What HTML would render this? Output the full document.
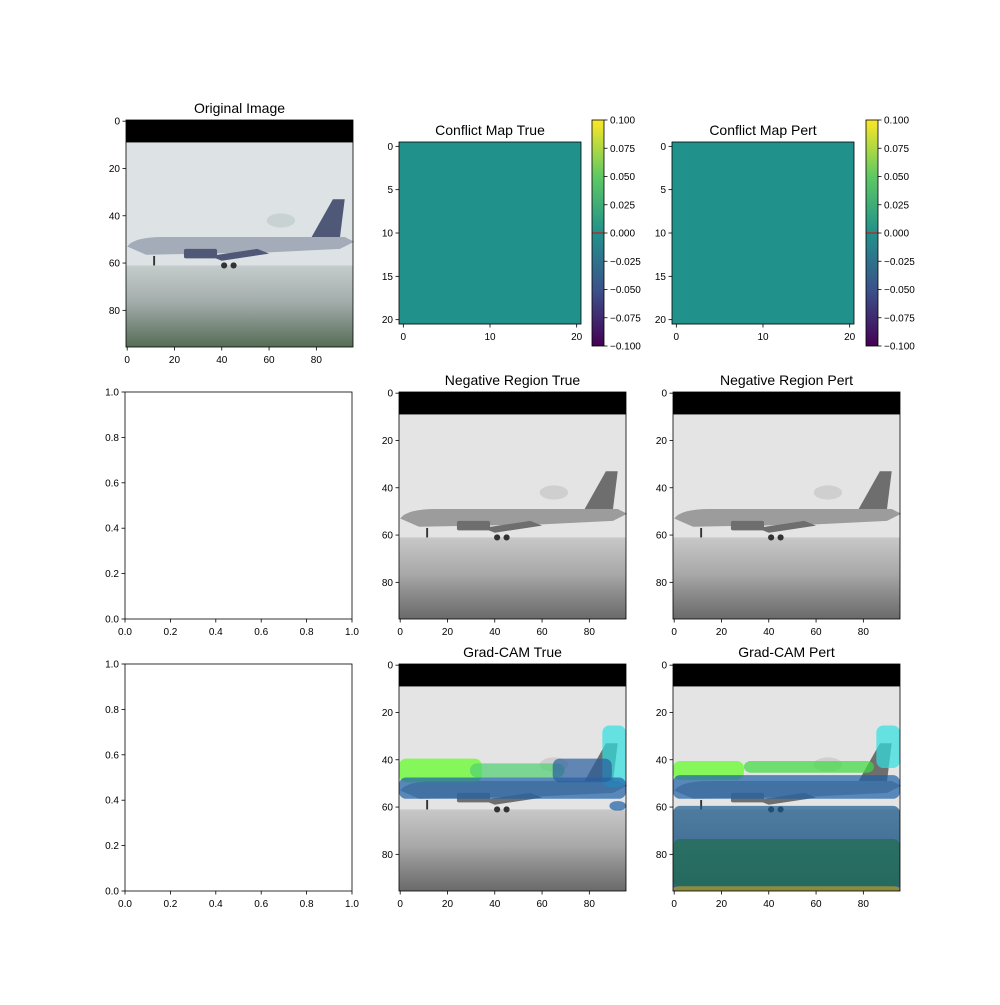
<!DOCTYPE html>
<html><head><meta charset="utf-8"><style>
body{margin:0;background:#fff}
svg text{font-family:"Liberation Sans",sans-serif;fill:#000}
</style></head><body>
<svg id="fig" width="1000" height="1000" viewBox="0 0 1000 1000" xmlns="http://www.w3.org/2000/svg">
<defs>
<linearGradient id="viridis" x1="0" y1="1" x2="0" y2="0">
<stop offset="0" stop-color="#440154"/><stop offset="0.25" stop-color="#3b528b"/><stop offset="0.5" stop-color="#21918c"/><stop offset="0.75" stop-color="#5ec962"/><stop offset="1" stop-color="#fde725"/>
</linearGradient>
<linearGradient id="groundC" x1="0" y1="0" x2="0" y2="1">
<stop offset="0" stop-color="#c4cccc"/><stop offset="0.45" stop-color="#a3adab"/><stop offset="0.7" stop-color="#7f8f84"/><stop offset="1" stop-color="#566d55"/>
</linearGradient>
<linearGradient id="groundG" x1="0" y1="0" x2="0" y2="1">
<stop offset="0" stop-color="#c8c8c8"/><stop offset="0.45" stop-color="#a8a8a8"/><stop offset="0.7" stop-color="#8a8a8a"/><stop offset="1" stop-color="#6a6a6a"/>
</linearGradient>
</defs>
</svg>
<script>
const NS="http://www.w3.org/2000/svg";
const svg=document.getElementById('fig');
const imgTicks=[0,20,40,60,80];
const unitTicks=["0.0","0.2","0.4","0.6","0.8","1.0"];
const cmXTicks=[0,10,20];
const cmYTicks=[0,5,10,15,20];
const cbTicks=[-0.1,-0.075,-0.05,-0.025,0,0.025,0.05,0.075,0.1];
const cbLabels=["−0.100","−0.075","−0.050","−0.025","0.000","0.025","0.050","0.075","0.100"];
const conflictValue=0;
function el(tag,attrs,parent){const e=document.createElementNS(NS,tag);for(const k in attrs)e.setAttribute(k,attrs[k]);(parent||svg).appendChild(e);return e;}
function txt(x,y,s,anchor,size,parent){const t=el('text',{x:x,y:y,'text-anchor':anchor||'middle','font-size':size||10},parent);t.textContent=s;return t;}
function frame(x,y,w,h,name){const g=el('g',{});return g;}
function border(g,x,y,w,h){el('rect',{x:x,y:y,width:w,height:h,fill:'none',stroke:'#000','stroke-width':0.8},g);}
function xTicks(g,vals,fx,y,labels){vals.forEach((v,i)=>{const X=fx(v);el('line',{x1:X,x2:X,y1:y,y2:y+3.5,stroke:'#000','stroke-width':0.8},g);txt(X,y+16,labels?labels[i]:String(v),'middle',10,g);});}
function yTicks(g,vals,fy,x,labels){vals.forEach((v,i)=>{const Y=fy(v);el('line',{x1:x,x2:x-3.5,y1:Y,y2:Y,stroke:'#000','stroke-width':0.8},g);txt(x-6,Y+3.5,labels?labels[i]:String(v),'end',10,g);});}
function plane(g,x0,y0,s,mode){
  const X=v=>x0+(v+0.5)*s, Y=v=>y0+(v+0.5)*s;
  const gray=mode!=='color';
  el('rect',{x:x0,y:y0,width:96*s,height:9.5*s,fill:'#000'},g);
  el('rect',{x:x0,y:Y(9),width:96*s,height:53*s,fill:gray?'#e4e4e4':'#dde3e4'},g);
  el('rect',{x:x0,y:Y(61),width:96*s,height:35*s-0.5*s,fill:gray?'url(#groundG)':'url(#groundC)'},g);
  el('ellipse',{cx:X(65),cy:Y(42),rx:6*s,ry:3*s,fill:gray?'#cfcfcf':'#c9d2d3'},g);
  const body=gray?'#9c9c9c':'#a4abb9', dark=gray?'#6e6e6e':'#4f5876';
  el('path',{d:`M${X(0)} ${Y(53)} Q${X(3)} ${Y(49)} ${X(15)} ${Y(49)} L${X(92)} ${Y(49)} L${X(96)} ${Y(51)} L${X(90)} ${Y(54)} L${X(60)} ${Y(55.5)} L${X(8)} ${Y(56.5)} Z`,fill:body},g);
  el('path',{d:`M${X(78)} ${Y(49)} L${X(87)} ${Y(33)} L${X(92)} ${Y(33)} L${X(90)} ${Y(49)} Z`,fill:dark},g);
  el('path',{d:`M${X(35)} ${Y(57)} L${X(55)} ${Y(54)} L${X(60)} ${Y(56)} L${X(40)} ${Y(59)} Z`,fill:dark},g);
  el('rect',{x:X(24),y:Y(54),width:14*s,height:4*s,fill:dark,rx:2},g);
  el('circle',{cx:X(41),cy:Y(61),r:1.3*s,fill:'#333'},g);
  el('circle',{cx:X(45),cy:Y(61),r:1.3*s,fill:'#333'},g);
  el('rect',{x:X(11),y:Y(57),width:0.8*s,height:4*s,fill:'#333'},g);
}
function cam(g,x0,y0,s,pert){
  const X=v=>x0+(v+0.5)*s, Y=v=>y0+(v+0.5)*s;
  const blobs=pert?[
   [0,41,30,8,'#5cff20'],[30,41,55,5,'#3cdc40'],[86,26,10,18,'#30e0e0'],
   [0,47,96,10,'#1d5fa8'],[0,60,96,36,'#1a5a8e'],[0,74,96,20,'#1f6d4e'],[0,94,96,2,'#b0a020']
  ]:[
   [0,40,35,10,'#5cff20'],[30,42,40,6,'#50d070'],[86,26,10,26,'#30e0e0'],
   [0,48,96,9,'#1d5fa8'],[65,40,25,10,'#2a5ea0'],[89,58,7,4,'#1d5fa8']
  ];
  blobs.forEach(b=>el('rect',{x:X(b[0]-0.5),y:Y(b[1]-0.5),width:b[2]*s,height:b[3]*s,fill:b[4],opacity:0.7,rx:3*s},g));
}
function imagePanel(x0,y0,name,title,mode,camMode){
  const W=227,s=W/96;const g=frame(x0,y0,W,W,name);
  plane(g,x0,y0,s,mode);
  if(camMode)cam(g,x0,y0,s,camMode==='pert');
  border(g,x0,y0,W,W);
  const fx=v=>x0+(v+0.5)*s, fy=v=>y0+(v+0.5)*s;
  xTicks(g,imgTicks,fx,y0+W);yTicks(g,imgTicks,fy,x0);
  const t=txt(x0+W/2,y0-7,title,'middle',14,g);
}
function emptyPanel(x0,y0,name){
  const W=227;const g=frame(x0,y0,W,W,name);
  el('rect',{x:x0,y:y0,width:W,height:W,fill:'#fff'},g);border(g,x0,y0,W,W);
  const vals=[0,0.2,0.4,0.6,0.8,1.0];
  xTicks(g,vals,v=>x0+v*W,y0+W,unitTicks);yTicks(g,vals,v=>y0+W-v*W,x0,unitTicks);
}
function conflictPanel(x0,y0,cbx,name,title){
  const W=182,s=W/21;const g=frame(x0,y0,W,W,name);
  for(let r=0;r<21;r++){const c=el('rect',{x:x0,y:y0+r*s,width:W,height:s+0.3,fill:'#21918c'},g);}
  border(g,x0,y0,W,W);
  xTicks(g,cmXTicks,v=>x0+(v+0.5)*s,y0+W);yTicks(g,cmYTicks,v=>y0+(v+0.5)*s,x0);
  const t=txt(x0+W/2,y0-7,title,'middle',14,g);
  const cb=frame(cbx,120,12,226,'colorbar');
  const cy0=120,ch=226,fy=v=>cy0+ch*(0.1-v)/0.2;
  el('rect',{x:cbx,y:cy0,width:12,height:ch,fill:'url(#viridis)'},cb);
  el('line',{x1:cbx,x2:cbx+12,y1:fy(conflictValue),y2:fy(conflictValue),stroke:'#e00','stroke-width':1},cb);
  border(cb,cbx,cy0,12,ch);
  cbTicks.forEach((v,i)=>{const Y=fy(v);el('line',{x1:cbx+12,x2:cbx+15.5,y1:Y,y2:Y,stroke:'#000','stroke-width':0.8},cb);txt(cbx+18,Y+3.5,cbLabels[i],'start',10,cb);});
}
imagePanel(126,120,'original-image-panel','Original Image','color');
conflictPanel(399,142,592,'conflict-map-true-panel','Conflict Map True');
conflictPanel(672,142,866,'conflict-map-pert-panel','Conflict Map Pert');
emptyPanel(125,392,'empty-panel-row2');
imagePanel(399,392,'negative-region-true-panel','Negative Region True','gray');
imagePanel(673,392,'negative-region-pert-panel','Negative Region Pert','gray');
emptyPanel(125,664,'empty-panel-row3');
imagePanel(399,664,'gradcam-true-panel','Grad-CAM True','gray','true');
imagePanel(673,664,'gradcam-pert-panel','Grad-CAM Pert','gray','pert');
</script>
</body></html>
